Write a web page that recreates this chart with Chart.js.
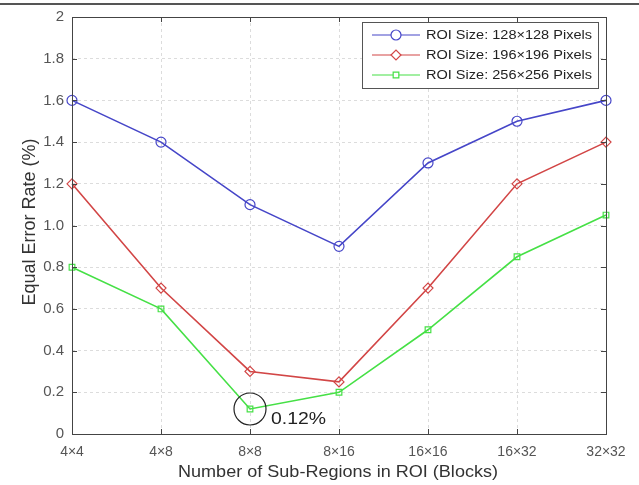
<!DOCTYPE html>
<html>
<head>
<meta charset="utf-8">
<script src="https://cdn.jsdelivr.net/npm/chart.js@4.4.0/dist/chart.umd.min.js"></script>
<style>
  html, body { margin: 0; padding: 0; background: #fff; }
  #wrap { position: relative; width: 639px; height: 485px; }
  #topRule { position: absolute; left: 0; top: 3px; width: 639px; height: 2px; background: #555; }
</style>
</head>
<body>
<div id="wrap">
  <div id="topRule"></div>
  <canvas id="chart" width="639" height="485"></canvas>
</div>
<script>
// --- Data ---
const categories = ['4×4', '4×8', '8×8', '8×16', '16×16', '16×32', '32×32'];
const roi128 = [1.6, 1.4, 1.1, 0.9, 1.3, 1.5, 1.6];
const roi196 = [1.2, 0.7, 0.3, 0.25, 0.7, 1.2, 1.4];
const roi256 = [0.8, 0.6, 0.12, 0.2, 0.5, 0.85, 1.05];
const seriesLabels = ['ROI Size: 128×128 Pixels', 'ROI Size: 196×196 Pixels', 'ROI Size: 256×256 Pixels'];
const yTickLabels = ['0', '0.2', '0.4', '0.6', '0.8', '1.0', '1.2', '1.4', '1.6', '1.8', '2'];
const xTitle = 'Number of Sub-Regions in ROI (Blocks)';
const yTitle = 'Equal Error Rate (%)';
const noteIndex = 2;
const noteText = '0.12%';

const FONT = '"Liberation Sans", Arial, sans-serif';
const colors = ['#4646c8', '#d24646', '#46e046'];
const markers = ['circle', 'rectRot', 'rect'];

// text squeezed/stretched to a given width (the scan is wider than tall)
function wideText(ctx, text, x, y, width) {
    const w = ctx.measureText(text).width;
    ctx.save();
    ctx.translate(x, y);
    ctx.scale(width / w, 1);
    ctx.fillText(text, 0, 0);
    ctx.restore();
}

// --- Box, inner ticks, titles, legend and note ---
const extras = {
    id: 'extras',
    afterDraw(chart) {
        const { ctx, chartArea: a, scales } = chart;
        ctx.save();
        // box
        ctx.strokeStyle = '#444';
        ctx.lineWidth = 1;
        ctx.strokeRect(a.left + 0.5, a.top + 0.5, a.right - a.left, a.bottom - a.top);
        // inner ticks
        ctx.beginPath();
        categories.forEach((c, i) => {
            const x = Math.round(scales.x.getPixelForValue(i)) + 0.5;
            ctx.moveTo(x, a.bottom); ctx.lineTo(x, a.bottom - 5);
            ctx.moveTo(x, a.top); ctx.lineTo(x, a.top + 5);
        });
        yTickLabels.forEach((t, i) => {
            const y = Math.round(scales.y.getPixelForValue(i * 0.2)) + 0.5;
            ctx.moveTo(a.left, y); ctx.lineTo(a.left + 5, y);
            ctx.moveTo(a.right, y); ctx.lineTo(a.right - 5, y);
        });
        ctx.stroke();

        // axis titles
        ctx.fillStyle = '#333';
        ctx.font = '17px ' + FONT;
        ctx.textBaseline = 'middle';
        ctx.textAlign = 'left';
        wideText(ctx, xTitle, 178, 472, 320);
        ctx.save();
        ctx.translate(30, 222);
        ctx.rotate(-Math.PI / 2);
        ctx.textAlign = 'center';
        ctx.font = '18px ' + FONT;
        ctx.fillText(yTitle, 0, 0);
        ctx.restore();

        // legend
        const lx = 362, ly = 22, lw = 236, lh = 66;
        ctx.fillStyle = '#fff';
        ctx.fillRect(lx, ly, lw, lh);
        ctx.strokeStyle = '#555';
        ctx.lineWidth = 1;
        ctx.strokeRect(lx + 0.5, ly + 0.5, lw, lh);
        ctx.font = '12px ' + FONT;
        ctx.textBaseline = 'middle';
        seriesLabels.forEach((lab, i) => {
            const y = ly + 13 + i * 20;
            ctx.strokeStyle = colors[i];
            ctx.lineWidth = 1.2;
            ctx.beginPath();
            ctx.moveTo(372, y); ctx.lineTo(420, y);
            ctx.stroke();
            ctx.fillStyle = '#fff';
            Chart.helpers.drawPoint(ctx, {
                pointStyle: markers[i], radius: i === 2 ? 4 : 5, rotation: 0, borderWidth: 1.2
            }, 396, y);
            ctx.fillStyle = '#222';
            wideText(ctx, lab, 426, y + 1, 166);
        });

        // note circle
        const px = scales.x.getPixelForValue(noteIndex);
        const py = scales.y.getPixelForValue(roi256[noteIndex]);
        ctx.strokeStyle = '#222';
        ctx.lineWidth = 1.2;
        ctx.beginPath();
        ctx.ellipse(px, py, 16, 16, 0, 0, Math.PI * 2);
        ctx.stroke();
        ctx.fillStyle = '#222';
        ctx.font = '17px ' + FONT;
        ctx.textBaseline = 'middle';
        wideText(ctx, noteText, px + 21, py + 10, 55);
        ctx.restore();
    }
};

function makeSet(i, data) {
    return {
        label: seriesLabels[i],
        data: data,
        borderColor: colors[i],
        backgroundColor: 'rgba(0,0,0,0)',
        borderWidth: 1.6,
        pointStyle: markers[i],
        pointRadius: i === 2 ? 4 : 5,
        pointBorderWidth: 1.2,
        pointBorderColor: colors[i],
        pointBackgroundColor: 'rgba(0,0,0,0)',
        tension: 0
    };
}

new Chart(document.getElementById('chart').getContext('2d'), {
    type: 'line',
    data: {
        labels: categories,
        datasets: [makeSet(0, roi128), makeSet(1, roi196), makeSet(2, roi256)]
    },
    options: {
        responsive: false,
        animation: false,
        layout: { padding: { top: 14, right: 33, left: 0, bottom: 0 } },
        plugins: { legend: { display: false }, tooltip: { enabled: false } },
        scales: {
            x: {
                offset: false,
                grid: { color: '#dcdcdc', drawTicks: false },
                border: { display: false, dash: [3, 3] },
                ticks: { color: '#555', font: { family: FONT, size: 14 }, padding: 10, maxRotation: 0 },
                afterFit(s) { s.height = 51; }
            },
            y: {
                min: 0, max: 2,
                grid: { color: '#dcdcdc', drawTicks: false },
                border: { display: false, dash: [3, 3] },
                ticks: {
                    stepSize: 0.2, color: '#555', font: { family: FONT, size: 15 }, padding: 8,
                    callback: (v, i) => yTickLabels[i]
                },
                afterFit(s) { s.width = 72; }
            }
        }
    },
    plugins: [extras]
});
</script>
</body>
</html>
